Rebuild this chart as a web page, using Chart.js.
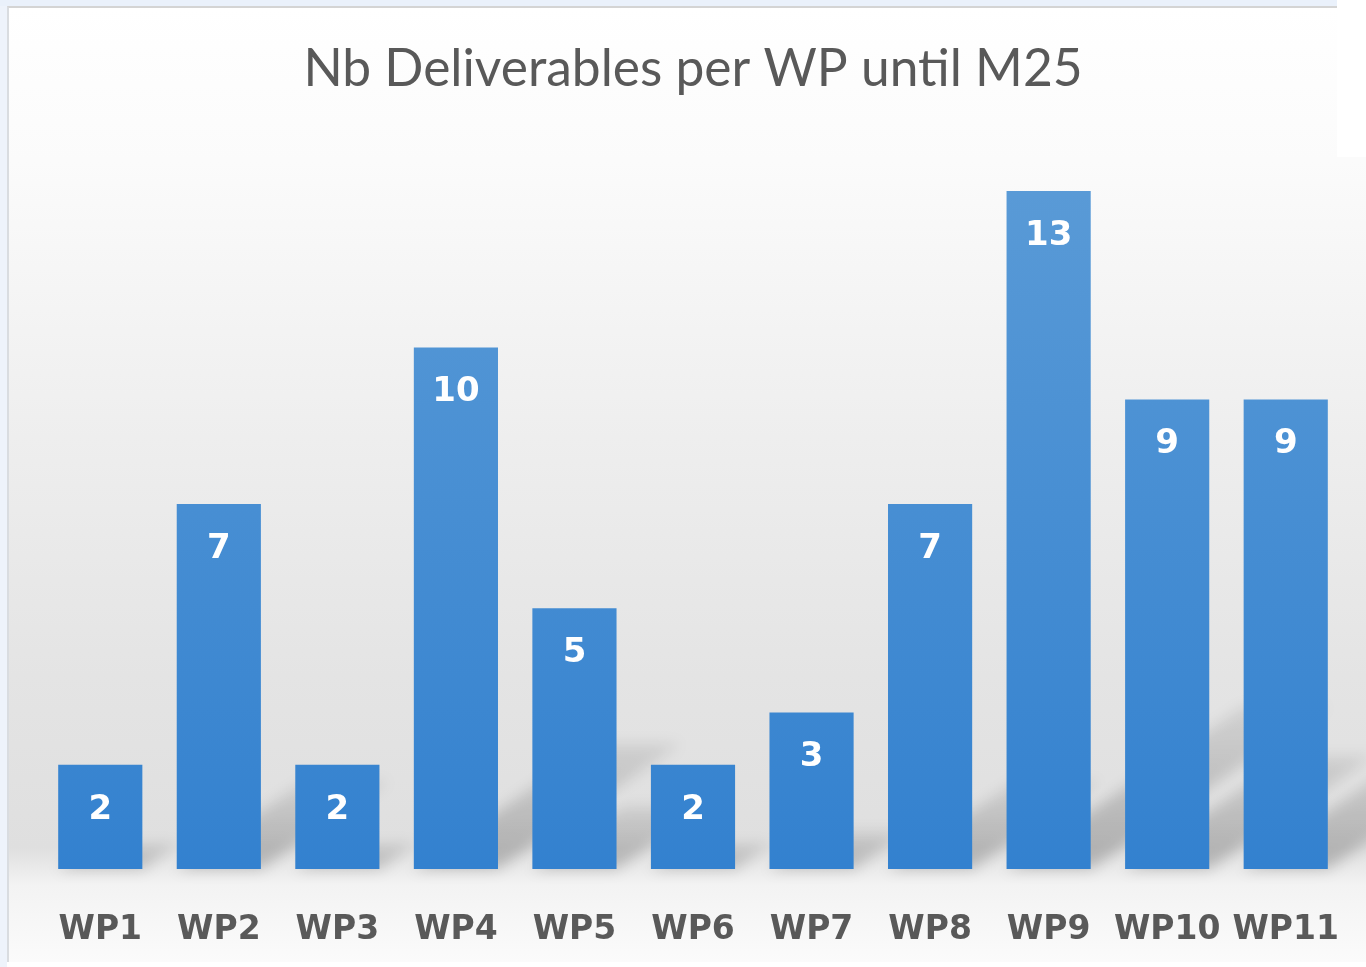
<!DOCTYPE html>
<html>
<head>
<meta charset="utf-8">
<script src="https://cdn.jsdelivr.net/npm/chart.js@4"></script>
<style>
  html, body { margin: 0; padding: 0; overflow: hidden; }
  body { width: 1366px; height: 967px; background: #ffffff; position: relative; }
  #topstrip { position: absolute; left: 0; top: 0; width: 1337px; height: 6px; background: #eaf1fb; }
  #leftstrip { position: absolute; left: 0; top: 0; width: 7px; height: 967px; background: #eef3fb; }
  #frame {
    position: absolute; left: 7px; top: 6px; width: 1359px; height: 956px;
    box-sizing: border-box; border-left: 2px solid #d9dce0; border-top: 2px solid #d4d4d4;
    background: linear-gradient(to bottom, #ffffff 0%, #fbfbfb 16%, #eeeeee 45%, #e4e4e4 70%, #dfdfdf 88%, #f3f3f3 92%, #fbfbfb 100%);
  }
  #corner { position: absolute; left: 1337px; top: 0; width: 29px; height: 157px; background: #ffffff; }
  canvas { display: block; }
</style>
</head>
<body>
<div id="leftstrip"></div>
<div id="topstrip"></div>
<div id="frame"><canvas id="chart" width="1357" height="954"></canvas></div>
<div id="corner"></div>
<script>
// data
const categories = ["WP1", "WP2", "WP3", "WP4", "WP5", "WP6", "WP7", "WP8", "WP9", "WP10", "WP11"];
const deliverables = [2, 7, 2, 10, 5, 2, 3, 7, 13, 9, 9];
const chartTitle = "Nb Deliverables per WP until M25";

// soft slanted shadow behind every bar
const barShadows = {
  id: "barShadows",
  beforeDatasetsDraw(chart) {
    const ctx = chart.ctx;
    const meta = chart.getDatasetMeta(0);
    ctx.save();
    ctx.filter = "blur(7px)";
    meta.data.forEach(bar => {
      const h = bar.base - bar.y;
      const dx = h * 0.35, dy = h * 0.24;
      const l = bar.x - bar.width / 2, r = bar.x + bar.width / 2;
      const g = ctx.createLinearGradient(0, bar.base, 0, bar.base - dy);
      g.addColorStop(0, "rgba(0,0,0,0.22)");
      g.addColorStop(1, "rgba(0,0,0,0.08)");
      ctx.fillStyle = g;
      ctx.beginPath();
      ctx.moveTo(l, bar.base);
      ctx.lineTo(r, bar.base);
      ctx.lineTo(r + dx, bar.base - dy);
      ctx.lineTo(l + dx, bar.base - dy);
      ctx.closePath();
      ctx.fill();
    });
    ctx.restore();
  }
};

// white value labels inside the top of each bar
const valueLabels = {
  id: "valueLabels",
  afterDatasetsDraw(chart) {
    const ctx = chart.ctx;
    const meta = chart.getDatasetMeta(0);
    ctx.save();
    ctx.fillStyle = "#ffffff";
    ctx.font = "bold 34px 'DejaVu Sans'";
    ctx.textAlign = "center";
    ctx.textBaseline = "middle";
    meta.data.forEach((bar, i) => {
      ctx.fillText(String(deliverables[i]), bar.x, bar.y + 45);
    });
    ctx.restore();
  }
};

function barGradient(context) {
  const area = context.chart.chartArea;
  if (!area) return "#4a8fd6";
  const g = context.chart.ctx.createLinearGradient(0, area.top, 0, area.bottom);
  g.addColorStop(0, "#5c9cd7");
  g.addColorStop(1, "#3381cf");
  return g;
}

new Chart(document.getElementById("chart"), {
  type: "bar",
  data: {
    labels: categories,
    datasets: [{
      data: deliverables,
      backgroundColor: barGradient,
      borderWidth: 0,
      categoryPercentage: 1,
      barPercentage: 0.71
    }]
  },
  options: {
    responsive: false, animation: false,
    layout: { padding: { left: 32, right: 21, top: 0, bottom: 13 } },
    plugins: {
      legend: { display: false },
      tooltip: { enabled: false },
      title: {
        display: true, text: chartTitle, color: "#595959",
        font: { family: "Lato", size: 51.5, weight: "normal" },
        padding: { top: 30, bottom: 39 }
      }
    },
    scales: {
      x: {
        grid: { display: false }, border: { display: false },
        ticks: { color: "#595959", padding: 34, maxRotation: 0, font: { family: "DejaVu Sans", size: 33, weight: "bold" } },
        afterFit: (scale) => {
          scale.height = 80;
          scale.paddingLeft = 0;
          scale.paddingRight = 0;
        }
      },
      y: { display: false, min: 0, max: 14 }
    }
  },
  plugins: [barShadows, valueLabels]
});
</script>
</body>
</html>
